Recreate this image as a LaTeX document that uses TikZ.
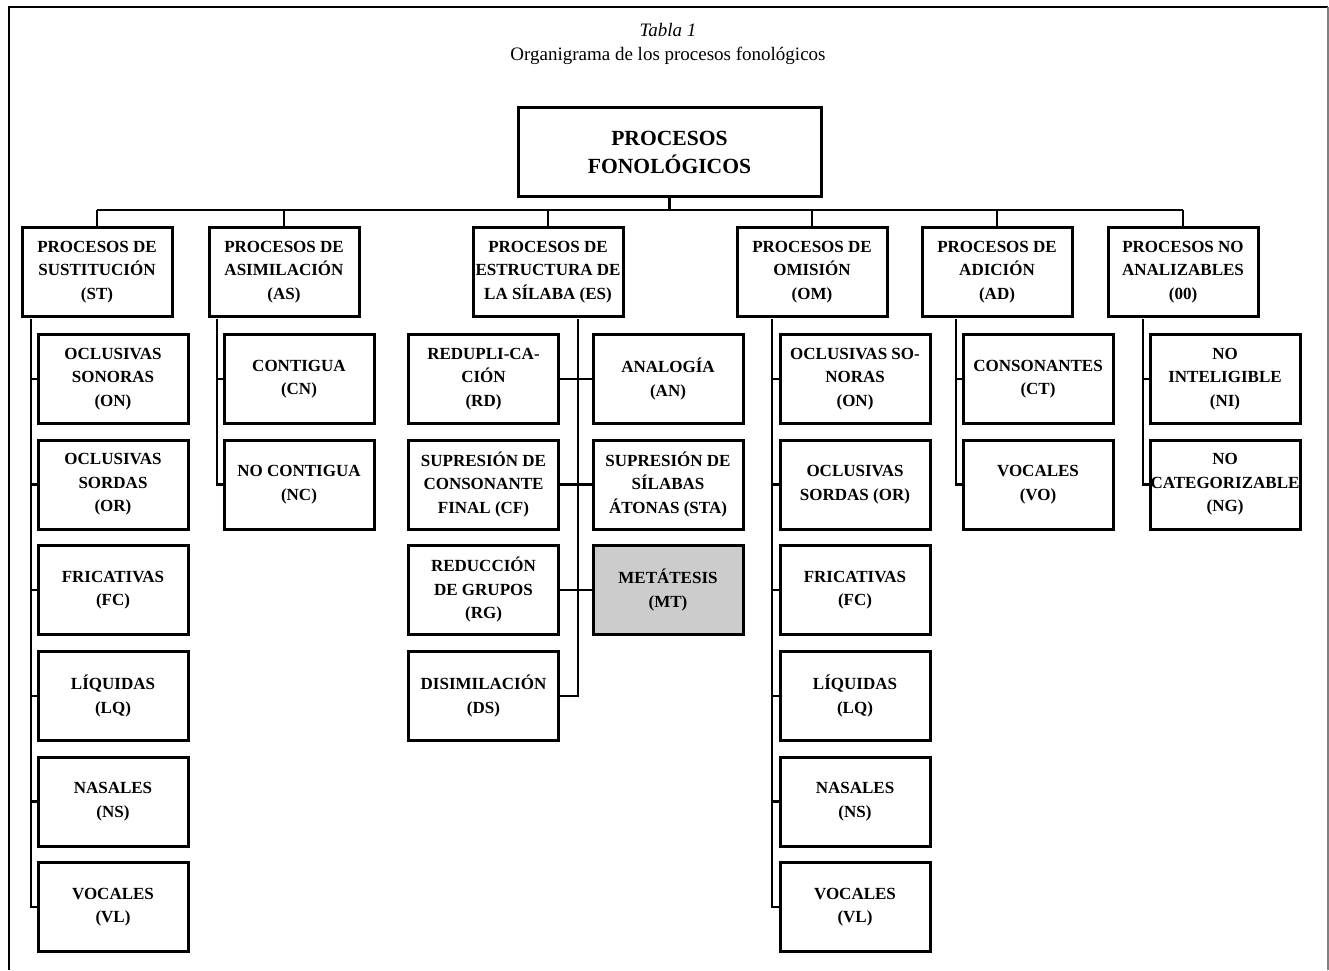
\documentclass[tikz,border=0pt]{standalone}
\usepackage{fontspec}
\setmainfont{Liberation Serif}
\definecolor{metagray}{RGB}{204,204,204}
\begin{document}
\begin{tikzpicture}[x=0.5pt,y=-0.5pt,
  box/.style={draw, rectangle, line width=1.5pt, minimum width=75pt, minimum height=44.5pt,
    inner sep=1pt, align=center, font=\bfseries\fontsize{8.5}{11.75}\selectfont},
  link/.style={draw, line width=1.25pt}]
\useasboundingbox (0,0) rectangle (1329,970);

% marco
\draw[line width=1.4pt] (9,970) -- (9,7) -- (1328,7);
\draw[gray, line width=0.7pt] (1328,7) -- (1328,970);

% titulo
\node[anchor=base, font=\itshape\fontsize{9.5}{11}\selectfont] (tab) at (668,36) {Tabla 1};
\node[anchor=base, font=\fontsize{9.5}{11}\selectfont] (cap) at (668,60) {Organigrama de los procesos fonológicos};

\node[box, minimum width=151.5pt, font=\bfseries\fontsize{10.8}{14}\selectfont] (pf) at (669.5,152) {PROCESOS\\FONOLÓGICOS};

\node[box] (st) at (97,272) {PROCESOS DE\\SUSTITUCIÓN\\(ST)};
\node[box] (as) at (284,272) {PROCESOS DE\\ASIMILACIÓN\\(AS)};
\node[box] (es) at (548,272) {PROCESOS DE\\ESTRUCTURA DE\\LA SÍLABA (ES)};
\node[box] (om) at (812,272) {PROCESOS DE\\OMISIÓN\\(OM)};
\node[box] (ad) at (997,272) {PROCESOS DE\\ADICIÓN\\(AD)};
\node[box] (na) at (1183,272) {PROCESOS NO\\ANALIZABLES\\(00)};

% sustitucion
\node[box] (st1) at (113,379) {OCLUSIVAS\\SONORAS\\(ON)};
\node[box] (st2) at (113,484.5) {OCLUSIVAS\\SORDAS\\(OR)};
\node[box] (st3) at (113,590) {FRICATIVAS\\(FC)};
\node[box] (st4) at (113,696) {LÍQUIDAS\\(LQ)};
\node[box] (st5) at (113,801.5) {NASALES\\(NS)};
\node[box] (st6) at (113,907) {VOCALES\\(VL)};

% asimilacion
\node[box] (as1) at (299,379) {CONTIGUA\\(CN)};
\node[box] (as2) at (299,484.5) {NO CONTIGUA\\(NC)};

% estructura de la silaba
\node[box] (rd) at (483.5,379) {REDUPLI-CA-\\CIÓN\\(RD)};
\node[box] (cf) at (483.5,484.5) {SUPRESIÓN DE\\CONSONANTE\\FINAL (CF)};
\node[box] (rg) at (483.5,590) {REDUCCIÓN\\DE GRUPOS\\(RG)};
\node[box] (ds) at (483.5,696) {DISIMILACIÓN\\(DS)};
\node[box] (an) at (668,379) {ANALOGÍA\\(AN)};
\node[box] (sta) at (668,484.5) {SUPRESIÓN DE\\SÍLABAS\\ÁTONAS (STA)};
\node[box, fill=metagray] (mt) at (668,590) {METÁTESIS\\(MT)};

% omision
\node[box] (om1) at (855,379) {OCLUSIVAS SO-\\NORAS\\(ON)};
\node[box] (om2) at (855,484.5) {OCLUSIVAS\\SORDAS (OR)};
\node[box] (om3) at (855,590) {FRICATIVAS\\(FC)};
\node[box] (om4) at (855,696) {LÍQUIDAS\\(LQ)};
\node[box] (om5) at (855,801.5) {NASALES\\(NS)};
\node[box] (om6) at (855,907) {VOCALES\\(VL)};

% adicion
\node[box] (ad1) at (1038,379) {CONSONANTES\\(CT)};
\node[box] (ad2) at (1038,484.5) {VOCALES\\(VO)};

% no analizables
\node[box] (na1) at (1225,379) {NO\\INTELIGIBLE\\(NI)};
\node[box, inner xsep=0pt] (na2) at (1225,484.5) {NO\\CATEGORIZABLE\\(NG)};

% barra superior
\coordinate (busl) at (97,210);
\coordinate (busr) at (1183,210);
\path[link] (busl) -- (busr);
\path[link] (pf.south) -- (pf.south |- busl);
\foreach \n in {st,as,es,om,ad,na}
  \path[link] (\n.north) -- (\n.north |- busl);

% troncos
\coordinate (st0) at (31,319);
\coordinate (as0) at (217,319);
\coordinate (es0) at (578,319);
\coordinate (om0) at (772,319);
\coordinate (ad0) at (956,319);
\coordinate (na0) at (1143,319);

\path[link] (st0) |- (st6.west);
\foreach \i in {1,...,5}
  \path[link] (st\i.west) -- (st\i.west -| st0);
\path[link] (om0) |- (om6.west);
\foreach \i in {1,...,5}
  \path[link] (om\i.west) -- (om\i.west -| om0);

\path[link] (as0) |- (as2.west);
\path[link] (as1.west) -- (as1.west -| as0);
\path[link] (ad0) |- (ad2.west);
\path[link] (ad1.west) -- (ad1.west -| ad0);
\path[link] (na0) |- (na2.west);
\path[link] (na1.west) -- (na1.west -| na0);

\path[link] (es0) |- (ds.east);
\path[link] (rd) -- (an);
\path[link] (cf) -- (sta);
\path[link] (rg) -- (mt);
\end{tikzpicture}
\end{document}
